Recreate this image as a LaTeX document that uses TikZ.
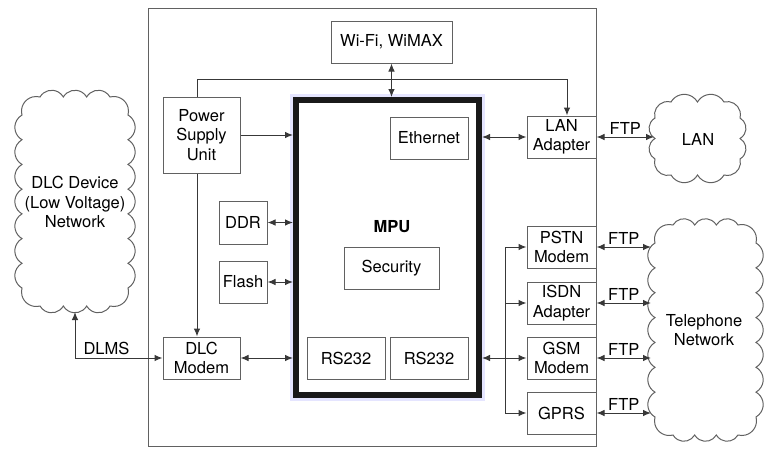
\documentclass[tikz,border=0pt]{standalone}
\usepackage{fontspec}
\setmainfont{TeX Gyre Heros}
\usetikzlibrary{calc, positioning, arrows.meta, backgrounds}
\definecolor{ink}{gray}{0.38}
\definecolor{wire}{gray}{0.22}

% bumpy outline around the box (#1,#2)-(#3,#4): #5 puffs across, #6 puffs down, corner cut #7
\newcommand\puffcloud[7]{%
    \pgfmathsetmacro\puffx{(#3-#1-2*#7)/#5*0.57735}%
    \pgfmathsetmacro\puffy{(#4-#2-2*#7)/#6*0.57735}%
    \pgfmathsetmacro\puffc{#7*0.8165}%
    \draw[ink] (#1,#4-#7)
        \foreach \k in {1,...,#6} { arc[start angle=120, end angle=240, radius=\puffy] }
        arc[start angle=165, end angle=285, radius=\puffc]
        \foreach \k in {1,...,#5} { arc[start angle=210, end angle=330, radius=\puffx] }
        arc[start angle=255, end angle=375, radius=\puffc]
        \foreach \k in {1,...,#6} { arc[start angle=-60, end angle=60, radius=\puffy] }
        arc[start angle=-15, end angle=105, radius=\puffc]
        \foreach \k in {1,...,#5} { arc[start angle=30, end angle=150, radius=\puffx] }
        arc[start angle=75, end angle=195, radius=\puffc]
        -- cycle;%
}

\begin{document}
\begin{tikzpicture}[x=1pt, y=-1pt, line width=1pt, >={Latex[length=8pt,width=6.5pt]},
        font=\fontsize{16.5}{19.5}\selectfont,
        blk/.style={draw=ink, rectangle, inner sep=0pt, align=center, minimum height=42pt},
        lnk/.style={draw=wire},
        glow/.style={draw=blue!10, line width=6pt}]
        \useasboundingbox (0,0) rectangle (773,453);

        % board and processor
        \node[draw=ink, inner sep=0pt, minimum width=448pt, minimum height=438pt] (board) at (372,227) {};
        \node[draw=black!90, line width=6pt, inner sep=0pt, minimum width=183pt, minimum height=295pt] (mpu) at (387.5,247.5) {};
        \node (mpulbl) at (392,227) {\bfseries MPU};

        \node[blk, minimum width=121pt] (wifi) at (391.5,42) {Wi-Fi, WiMAX};
        \node[blk, minimum width=77pt, minimum height=76pt] (psu) at (201.5,135) {Power\\Supply\\Unit};
        \node[blk, minimum width=78pt] (eth) at (429,138) {Ethernet};
        \node[blk, minimum width=48pt, minimum height=43pt] (ddr) at (243,222.5) {DDR};
        \node[blk, minimum width=48pt] (flash) at (243,282) {Flash};
        \node[blk, minimum width=95pt] (sec) at (391.5,268) {Security};
        \node[blk, minimum width=78pt] (rsa) at (346,358) {RS232};
        \node[blk, minimum width=78pt] (rsb) at (429,358) {RS232};
        \node[blk, minimum width=77pt] (dlc) at (201.5,358) {DLC\\Modem};

        % adapters on the right edge
        \node[blk, minimum width=69pt] (lan) at (561.5,137) {LAN\\Adapter};
        \node[blk, minimum width=69pt] (pstn) at (561.5,247) {PSTN\\Modem};
        \node[blk, minimum width=69pt] (isdn) at (561.5,303) {ISDN\\Adapter};
        \node[blk, minimum width=69pt] (gsm) at (561.5,358) {GSM\\Modem};
        \node[blk, minimum width=69pt] (gprs) at (561.5,413) {GPRS};

        % networks
        \puffcloud{22}{97}{128}{306}{3}{7}{18}
        \node[align=center] (dlcnet) at (75,202) {DLC Device\\(Low Voltage)\\Network};
        \puffcloud{655}{102}{740}{175}{2}{2}{16}
        \node (lannet) at (698,139) {LAN};
        \puffcloud{655}{225}{756}{435}{3}{7}{18}
        \node[align=center] (telnet) at (704,330) {Telephone\\Network};

        \begin{scope}[on background layer]
            \draw[glow] (mpu.south west) rectangle (mpu.north east);
        \end{scope}

        \coordinate (pwrtop) at (197,79);
        \coordinate (lantop) at (567,79);
        \coordinate (split) at (505,0);
        \coordinate (dlcbot) at (75,312);
        \coordinate (lanleft) at (654,0);
        \coordinate (telleft) at (651,0);

        \draw[lnk, <->] (wifi.south) -- (wifi.south |- mpu.north);
        \draw[lnk, ->] (psu.north -| pwrtop) -- (pwrtop) -- (lantop) -- (lantop |- lan.north);
        \draw[lnk, ->] (psu.south -| pwrtop) -- (dlc.north -| pwrtop);
        \draw[lnk, ->] (psu.east) -- (psu.east -| mpu.west);
        \draw[lnk, <->] (ddr.east) -- (ddr.east -| mpu.west);
        \draw[lnk, <->] (flash.east) -- (flash.east -| mpu.west);
        \draw[lnk, <->] (dlc.east) -- (dlc.east -| mpu.west);
        \draw[lnk, <->] (lan.west -| mpu.east) -- (lan.west);
        \draw[lnk, <->] (gsm.west -| mpu.east) -- (gsm.west);
        \draw[lnk] (split |- pstn.west) -- (split |- gprs.west);
        \draw[lnk, ->] (split |- pstn.west) -- (pstn.west);
        \draw[lnk, ->] (split |- isdn.west) -- (isdn.west);
        \draw[lnk, ->] (split |- gprs.west) -- (gprs.west);

        \draw[lnk, <->] (dlcbot) |- node[above, pos=0.68, inner sep=3pt] {DLMS} (dlc.west);
        \draw[lnk, <->] (lan.east) -- node[above, inner sep=2pt] {FTP} (lan.east -| lanleft);
        \draw[lnk, <->] (pstn.east) -- node[above, inner sep=2pt] {FTP} (pstn.east -| telleft);
        \draw[lnk, <->] (isdn.east) -- node[above, inner sep=2pt] {FTP} (isdn.east -| telleft);
        \draw[lnk, <->] (gsm.east) -- node[above, inner sep=2pt] {FTP} (gsm.east -| telleft);
        \draw[lnk, <->] (gprs.east) -- node[above, inner sep=2pt] {FTP} (gprs.east -| telleft);
    \end{tikzpicture}
\end{document}
